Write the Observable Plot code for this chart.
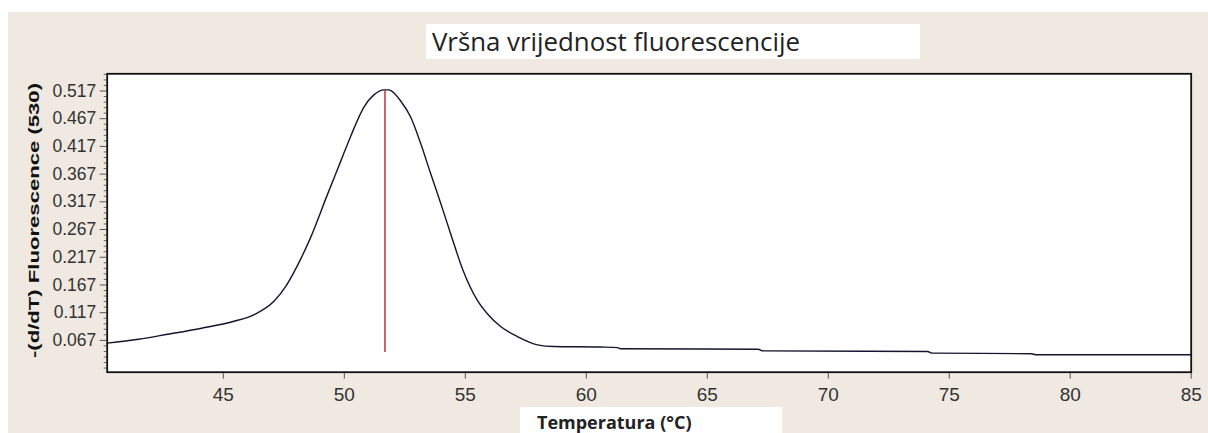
<!DOCTYPE html>
<html>
<head>
<meta charset="utf-8">
<script src="https://cdn.jsdelivr.net/npm/d3@7"></script>
<script src="https://cdn.jsdelivr.net/npm/@observablehq/plot@0.6"></script>
<style>
  html, body { margin: 0; padding: 0; background: #ffffff; }
  #wrap { position: relative; width: 1208px; height: 433px; overflow: hidden; background: #ffffff; }
  #beige { position: absolute; left: 8px; top: 12px; right: 0; bottom: 0; background: #efe9e1; }
  #chart { position: absolute; left: 0; top: 0; }
  #title { position: absolute; left: 426px; top: 24px; width: 494px; height: 35px; background: #ffffff;
           font-family: "Open Sans", sans-serif; font-size: 26px; line-height: 34px; color: #222; white-space: nowrap; }
  #title span { display: inline-block; padding-left: 6px; transform-origin: left center; }
  #xlabel { position: absolute; left: 520px; top: 407px; width: 262px; height: 26px; background: #ffffff;
            font-family: "Open Sans", sans-serif; font-weight: bold; font-size: 18px; line-height: 30px; color: #222; white-space: nowrap; }
  #xlabel span { display: inline-block; padding-left: 17px; }
</style>
</head>
<body>
<div id="wrap">
  <div id="beige"></div>
  <div id="chart"></div>
  <div id="title"><span>Vršna vrijednost fluorescencije</span></div>
  <div id="xlabel"><span>Temperatura (°C)</span></div>
</div>
<script>
// Temperature (°C) and -(d/dT) fluorescence
const temperature = [40.2, 41.5, 42.7, 44.1, 45.4, 46.3, 47.1, 47.6, 48.2, 48.6, 49.3, 49.85, 50.26, 50.81, 51.22, 51.64, 51.84,
  51.91, 52.33, 52.74, 53.15, 53.56, 53.98, 54.39, 54.9, 55.5, 55.91, 56.46, 57.15, 57.98, 58.66, 60.6, 61.3, 61.4, 67.1, 67.3,
  74.1, 74.3, 78.4, 78.6, 85.0];
const fluorescence = [0.062, 0.069, 0.078, 0.089, 0.101, 0.114, 0.138, 0.166, 0.214, 0.252, 0.330, 0.390, 0.435, 0.488, 0.510, 0.519, 0.519,
  0.518, 0.499, 0.470, 0.423, 0.369, 0.315, 0.260, 0.194, 0.139, 0.115, 0.092, 0.074, 0.059, 0.056, 0.055, 0.054, 0.052, 0.051, 0.048,
  0.047, 0.044, 0.043, 0.041, 0.041];
const peakTemp = [51.68];
const peakRange = [0.045, 0.519];
const xTicks = [45, 50, 55, 60, 65, 70, 75, 80, 85];
const yTicks = [0.067, 0.117, 0.167, 0.217, 0.267, 0.317, 0.367, 0.417, 0.467, 0.517];
const yMinorTicks = [0.017, 0.027, 0.037, 0.047, 0.057, 0.077, 0.087, 0.097, 0.107, 0.127, 0.137, 0.147, 0.157,
  0.177, 0.187, 0.197, 0.207, 0.227, 0.237, 0.247, 0.257, 0.277, 0.287, 0.297, 0.307, 0.327, 0.337, 0.347, 0.357,
  0.377, 0.387, 0.397, 0.407, 0.427, 0.437, 0.447, 0.457, 0.477, 0.487, 0.497, 0.507, 0.527, 0.537, 0.547];
const yLabel = "-(d/dT) Fluorescence (530)";

const curve = temperature.map((t, i) => ({t, f: fluorescence[i]}));

const plot = Plot.plot({
  width: 1208,
  height: 433,
  marginLeft: 106.7,
  marginRight: 17.3,
  marginTop: 73.3,
  marginBottom: 61.3,
  style: {background: "transparent", fontFamily: "'Liberation Sans', Arial, sans-serif", fontSize: "17px", color: "#333"},
  x: {domain: [40.2, 85]},
  y: {domain: [0.0096, 0.548]},
  marks: [
    Plot.frame({fill: "#ffffff", stroke: null}),
    Plot.axisY({ticks: yMinorTicks, tickSize: 3, tickFormat: () => "", stroke: "#666", label: null}),
    Plot.axisY({ticks: yTicks, tickSize: 7, tickPadding: 4, tickFormat: d3.format(".3f"), stroke: "#555", fontSize: 17.5, fontFamily: "'Liberation Sans', Arial, sans-serif", label: null}),
    Plot.axisX({ticks: xTicks, tickSize: 7, tickPadding: 8, tickFormat: d3.format("d"), stroke: "#555", fontSize: 19, fontFamily: "'Liberation Sans', Arial, sans-serif", label: null}),
    Plot.line(curve, {x: "t", y: "f", stroke: "#14142e", strokeWidth: 1.4, curve: "monotone-x"}),
    Plot.ruleX(peakTemp, {y1: peakRange[0], y2: peakRange[1], stroke: "#c4303a", strokeWidth: 1.5}),
    Plot.frame({stroke: "#111", strokeWidth: 1.8})
  ]
});
document.getElementById("chart").appendChild(plot);

// Y axis label
d3.select(plot).append("text")
  .attr("transform", "translate(39,220.5) rotate(-90)")
  .attr("text-anchor", "middle")
  .attr("font-family", "'Liberation Sans', Arial, sans-serif")
  .attr("font-weight", "bold")
  .attr("font-size", 15)
  .attr("fill", "#111")
  .attr("textLength", 275)
  .attr("lengthAdjust", "spacingAndGlyphs")
  .text(yLabel);

// Fit title to its measured width
const ts = document.querySelector("#title span");
const w = ts.getBoundingClientRect().width - 6;
ts.style.transform = `scaleX(${368 / w})`;
</script>
</body>
</html>
